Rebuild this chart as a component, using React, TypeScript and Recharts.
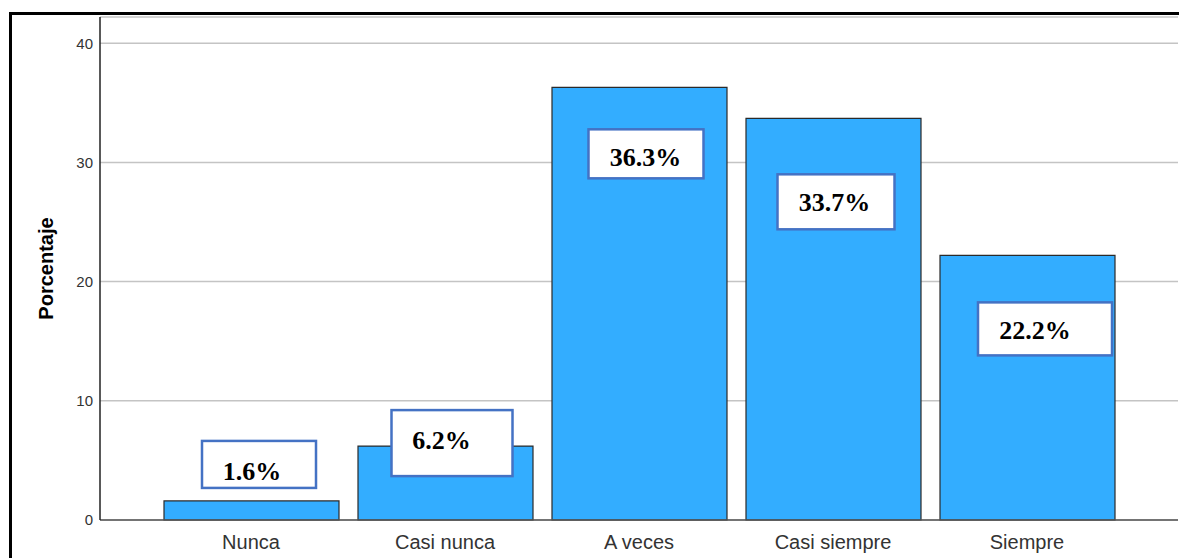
import React from 'react';
import { BarChart, Bar, XAxis, YAxis, CartesianGrid, LabelList } from 'recharts';

const categories = ['Nunca', 'Casi nunca', 'A veces', 'Casi siempre', 'Siempre'];
const percentages = [1.6, 6.2, 36.3, 33.7, 22.2];
const yTicks = [0, 10, 20, 30, 40];
const yLabel = 'Porcentaje';

// label box layout relative to bar centre / bar top: [boxDx, boxDy, w, h, textDx, textDyFromBoxTop]
const labelLayout = [
  [-49.5, -60, 114, 47, 0.5, 31],
  [-54, -36, 121, 66, -4, 30],
  [-51, 42, 115, 49, 6, 28],
  [-56, 56, 117, 55, 1, 28],
  [-49.5, 47, 134, 53, 7.5, 28],
];

const data = categories.map((c, i) => ({ name: c, value: percentages[i] }));

const renderLabel = (props: any) => {
  const { x, y, width, index, value } = props;
  const l = labelLayout[index];
  const cx = Number(x) + Number(width) / 2;
  const top = Number(y);
  const bx = cx + l[0];
  const by = top + l[1];
  return (
    <g>
      <rect x={bx} y={by} width={l[2]} height={l[3]} fill="#ffffff" stroke="#4472C4" strokeWidth={2.5} />
      <text
        x={cx + l[4]}
        y={by + l[5]}
        textAnchor="middle"
        dominantBaseline="central"
        fontFamily="'Liberation Serif', 'Times New Roman', serif"
        fontWeight="bold"
        fontSize={26}
        fill="#000"
      >
        {`${Number(value).toFixed(1)}%`}
      </text>
    </g>
  );
};

const renderYLabel = (props: any) => {
  const vb = props.viewBox || {};
  const x = 46;
  const y = vb.y + vb.height / 2;
  return (
    <text
      x={x}
      y={y}
      transform={`rotate(-90 ${x} ${y})`}
      textAnchor="middle"
      dominantBaseline="central"
      fontFamily="'Liberation Sans', Arial, sans-serif"
      fontWeight="bold"
      fontSize={20}
      fill="#000"
    >
      {yLabel}
    </text>
  );
};

export default function App() {
  return (
    <div style={{ position: 'fixed', left: 0, top: 0, width: 1179, height: 558, overflow: 'hidden', background: '#fff' }}>
      <div
        style={{
          position: 'absolute',
          left: 9,
          top: 12,
          width: 1170,
          height: 546,
          borderLeft: '3px solid #000',
          borderTop: '3px solid #000',
          boxSizing: 'border-box',
        }}
      />
      <div style={{ position: 'absolute', left: 0, top: 0 }}>
        <BarChart
          width={1179}
          height={558}
          data={data}
          margin={{ top: 17, right: 1, left: 0, bottom: 0 }}
          barSize={175}
        >
          <CartesianGrid vertical={false} stroke="#c4c4c4" strokeWidth={1.5} />
          <XAxis
            dataKey="name"
            height={38}
            padding={{ left: 54, right: 54 }}
            tickLine={false}
            tickSize={13}
            tickMargin={2}
            axisLine={{ stroke: '#555', strokeWidth: 1.5 }}
            tick={{ fill: '#333', fontSize: 20, fontFamily: "'Liberation Sans', Arial, sans-serif" }}
            interval={0}
          />
          <YAxis
            width={100}
            domain={[0, 42.2]}
            ticks={yTicks}
            tickLine={false}
            tickSize={5}
            tickMargin={2}
            axisLine={{ stroke: '#222', strokeWidth: 1.5 }}
            tick={{ fill: '#333', fontSize: 15, fontFamily: "'Liberation Sans', Arial, sans-serif" }}
            label={renderYLabel}
          />
          <Bar dataKey="value" fill="#33ADFF" stroke="#2a2a2a" strokeWidth={1.2} isAnimationActive={false}>
            <LabelList dataKey="value" content={renderLabel} />
          </Bar>
        </BarChart>
      </div>
    </div>
  );
}
